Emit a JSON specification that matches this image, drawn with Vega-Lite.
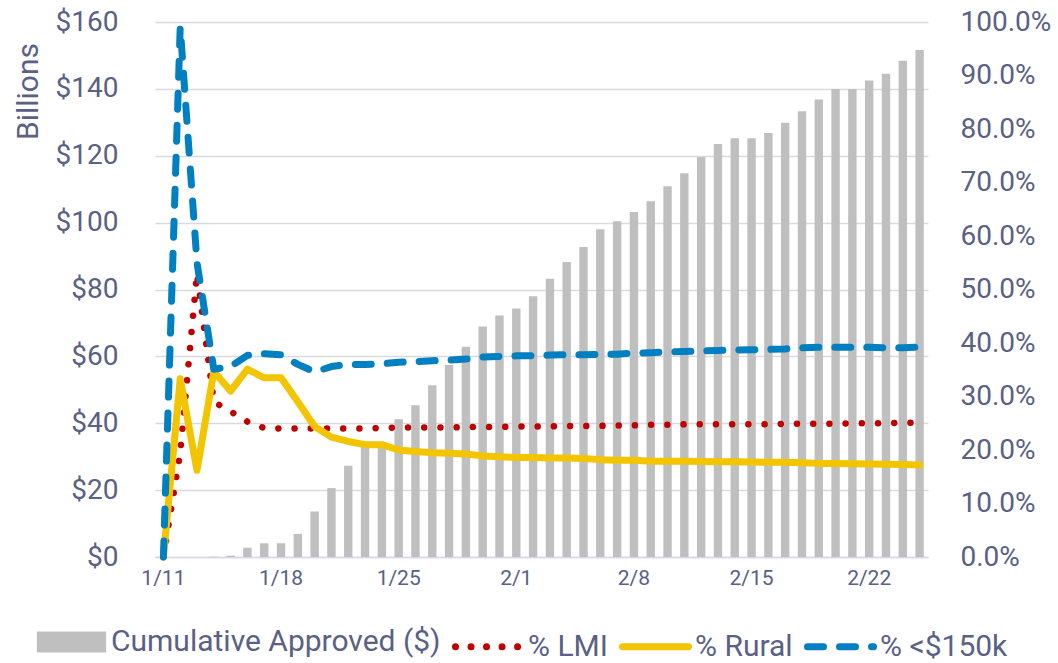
{
  "$schema": "https://vega.github.io/schema/vega-lite/v6.json",
  "width": 773,
  "height": 535,
  "autosize": "none",
  "padding": {"left": 155, "top": 22, "right": 130, "bottom": 106},
  "background": "white",
  "config": {
    "view": {"stroke": null},
    "font": "Roboto",
    "axis": {"labelFont": "Roboto", "titleFont": "Roboto", "labelColor": "#5a6086", "titleColor": "#5a6086"}
  },
  "data": {"values": [
    {"d": "1/11", "amt": 0, "lmi": 0, "rur": 0, "u": 0},
    {"d": "1/12", "amt": 0, "lmi": 0.195, "rur": 0.333, "u": 0.99},
    {"d": "1/13", "amt": 0, "lmi": 0.53, "rur": 0.162, "u": 0.55},
    {"d": "1/14", "amt": 0.1, "lmi": 0.29, "rur": 0.347, "u": 0.351},
    {"d": "1/15", "amt": 0.4, "lmi": 0.272, "rur": 0.31, "u": 0.356},
    {"d": "1/16", "amt": 2.8, "lmi": 0.253, "rur": 0.351, "u": 0.377},
    {"d": "1/17", "amt": 4.1, "lmi": 0.241, "rur": 0.335, "u": 0.38},
    {"d": "1/18", "amt": 4.1, "lmi": 0.24, "rur": 0.335, "u": 0.378},
    {"d": "1/19", "amt": 6.9, "lmi": 0.24, "rur": 0.29, "u": 0.36},
    {"d": "1/20", "amt": 13.6, "lmi": 0.24, "rur": 0.244, "u": 0.346},
    {"d": "1/21", "amt": 20.6, "lmi": 0.24, "rur": 0.224, "u": 0.356},
    {"d": "1/22", "amt": 27.3, "lmi": 0.24, "rur": 0.216, "u": 0.36},
    {"d": "1/23", "amt": 33.0, "lmi": 0.24, "rur": 0.21, "u": 0.36},
    {"d": "1/24", "amt": 33.8, "lmi": 0.241, "rur": 0.21, "u": 0.361},
    {"d": "1/25", "amt": 41.2, "lmi": 0.242, "rur": 0.2, "u": 0.364},
    {"d": "1/26", "amt": 45.4, "lmi": 0.242, "rur": 0.197, "u": 0.365},
    {"d": "1/27", "amt": 51.4, "lmi": 0.242, "rur": 0.195, "u": 0.367},
    {"d": "1/28", "amt": 57.4, "lmi": 0.242, "rur": 0.194, "u": 0.368},
    {"d": "1/29", "amt": 62.9, "lmi": 0.243, "rur": 0.1925, "u": 0.37},
    {"d": "1/30", "amt": 68.9, "lmi": 0.243, "rur": 0.189, "u": 0.374},
    {"d": "1/31", "amt": 72.2, "lmi": 0.243, "rur": 0.1875, "u": 0.375},
    {"d": "2/1", "amt": 74.3, "lmi": 0.244, "rur": 0.186, "u": 0.376},
    {"d": "2/2", "amt": 78.0, "lmi": 0.244, "rur": 0.186, "u": 0.376},
    {"d": "2/3", "amt": 83.2, "lmi": 0.244, "rur": 0.185, "u": 0.3775},
    {"d": "2/4", "amt": 88.2, "lmi": 0.245, "rur": 0.185, "u": 0.378},
    {"d": "2/5", "amt": 92.7, "lmi": 0.245, "rur": 0.184, "u": 0.378},
    {"d": "2/6", "amt": 98.0, "lmi": 0.245, "rur": 0.182, "u": 0.379},
    {"d": "2/7", "amt": 100.4, "lmi": 0.246, "rur": 0.181, "u": 0.379},
    {"d": "2/8", "amt": 103.2, "lmi": 0.246, "rur": 0.181, "u": 0.381},
    {"d": "2/9", "amt": 106.4, "lmi": 0.247, "rur": 0.179, "u": 0.382},
    {"d": "2/10", "amt": 110.9, "lmi": 0.247, "rur": 0.179, "u": 0.383},
    {"d": "2/11", "amt": 114.8, "lmi": 0.248, "rur": 0.179, "u": 0.384},
    {"d": "2/12", "amt": 119.6, "lmi": 0.248, "rur": 0.1785, "u": 0.385},
    {"d": "2/13", "amt": 123.5, "lmi": 0.248, "rur": 0.178, "u": 0.386},
    {"d": "2/14", "amt": 125.2, "lmi": 0.248, "rur": 0.178, "u": 0.387},
    {"d": "2/15", "amt": 125.2, "lmi": 0.248, "rur": 0.1775, "u": 0.3875},
    {"d": "2/16", "amt": 126.8, "lmi": 0.248, "rur": 0.177, "u": 0.388},
    {"d": "2/17", "amt": 129.9, "lmi": 0.249, "rur": 0.177, "u": 0.389},
    {"d": "2/18", "amt": 133.3, "lmi": 0.249, "rur": 0.176, "u": 0.391},
    {"d": "2/19", "amt": 136.8, "lmi": 0.249, "rur": 0.175, "u": 0.392},
    {"d": "2/20", "amt": 140.0, "lmi": 0.249, "rur": 0.175, "u": 0.392},
    {"d": "2/21", "amt": 140.0, "lmi": 0.25, "rur": 0.1745, "u": 0.392},
    {"d": "2/22", "amt": 142.5, "lmi": 0.25, "rur": 0.174, "u": 0.392},
    {"d": "2/23", "amt": 144.5, "lmi": 0.25, "rur": 0.1735, "u": 0.391},
    {"d": "2/24", "amt": 148.4, "lmi": 0.251, "rur": 0.173, "u": 0.391},
    {"d": "2/25", "amt": 151.6, "lmi": 0.251, "rur": 0.172, "u": 0.3925}
  ]},
  "layer": [
    {
      "mark": {"type": "bar", "width": {"band": 0.5}},
      "encoding": {
        "x": {
          "field": "d", "type": "ordinal", "sort": null,
          "scale": {"paddingInner": 0, "paddingOuter": 0},
          "axis": {
            "title": null,
            "values": ["1/11", "1/18", "1/25", "2/1", "2/8", "2/15", "2/22"],
            "labelAngle": 0, "labelFontSize": 21, "labelPadding": 10,
            "ticks": false, "grid": false,
            "domainColor": "#d9d9e4", "domainWidth": 1.5
          }
        },
        "y": {
          "field": "amt", "type": "quantitative",
          "scale": {"domain": [0, 160], "nice": false},
          "axis": {
            "orient": "left",
            "values": [0, 20, 40, 60, 80, 100, 120, 140, 160],
            "labelExpr": "'$' + datum.value",
            "grid": true, "gridColor": "#d9d9e4", "gridWidth": 1.5,
            "domain": false, "ticks": false,
            "labelPadding": 37, "labelFontSize": 28,
            "title": "Billions", "titleFontSize": 30, "titleFontWeight": "normal",
            "titleAngle": -90, "titleX": -127, "titleY": 69,
            "titleAlign": "center", "titleBaseline": "middle"
          }
        },
        "color": {
          "datum": "Cumulative Approved ($)", "type": "nominal",
          "scale": {
            "domain": ["Cumulative Approved ($)", "% LMI", "% Rural", "% <$150k"],
            "range": ["#bfbfbf", "#c00000", "#f2c500", "#0080c0"]
          },
          "legend": {
            "title": null,
            "orient": "none",
            "legendX": -120,
            "legendY": 583,
            "direction": "horizontal",
            "columns": 4,
            "symbolSize": 4356,
            "labelFont": "Roboto",
            "labelFontSize": 30,
            "labelColor": "#5a6086",
            "labelOffset": 3,
            "labelLimit": 600,
            "columnPadding": 0,
            "encode": {
              "symbols": {
                "update": {
                  "size": {"value": 4356},
                  "shape": {"signal": "datum.value === 'Cumulative Approved ($)' ? 'M-1.05,-0.32H1.05V0.32H-1.05Z' : 'stroke'"},
                  "fill": {"signal": "datum.value === 'Cumulative Approved ($)' ? '#bfbfbf' : 'transparent'"},
                  "stroke": {"signal": "datum.value === '% LMI' ? '#c00000' : datum.value === '% Rural' ? '#f2c500' : datum.value === '% <$150k' ? '#0080c0' : 'transparent'"},
                  "strokeWidth": {"value": 7},
                  "strokeDash": {"signal": "datum.value === '% LMI' ? [0.01, 15.5] : datum.value === '% <$150k' ? [16, 16] : [1, 0]"},
                  "strokeCap": {"value": "round"},
                  "opacity": {"value": 1}
                }
              }
            }
          }
        }
      }
    },
    {
      "layer": [
        {
          "mark": {"type": "line", "color": "#c00000", "strokeWidth": 6.5, "strokeDash": [0.01, 16.2], "strokeCap": "round", "strokeJoin": "round"},
          "encoding": {
            "x": {"field": "d", "type": "ordinal", "sort": null},
            "y": {
              "field": "lmi", "type": "quantitative",
              "scale": {"domain": [0, 1], "nice": false},
              "axis": {
                "orient": "right", "title": null,
                "values": [0, 0.1, 0.2, 0.3, 0.4, 0.5, 0.6, 0.7, 0.8, 0.9, 1],
                "format": ".1%", "grid": false, "domain": false, "ticks": false,
                "labelPadding": 32, "labelFontSize": 28
              }
            }
          }
        },
        {
          "mark": {"type": "line", "color": "#f2c500", "strokeWidth": 7, "strokeCap": "round", "strokeJoin": "round"},
          "encoding": {
            "x": {"field": "d", "type": "ordinal", "sort": null},
            "y": {
              "field": "rur", "type": "quantitative",
              "scale": {"domain": [0, 1], "nice": false},
              "axis": {
                "orient": "right", "title": null,
                "values": [0, 0.1, 0.2, 0.3, 0.4, 0.5, 0.6, 0.7, 0.8, 0.9, 1],
                "format": ".1%", "grid": false, "domain": false, "ticks": false,
                "labelPadding": 32, "labelFontSize": 28
              }
            }
          }
        },
        {
          "mark": {"type": "line", "color": "#0080c0", "strokeWidth": 7, "strokeDash": [16, 16], "strokeCap": "round", "strokeJoin": "round"},
          "encoding": {
            "x": {"field": "d", "type": "ordinal", "sort": null},
            "y": {
              "field": "u", "type": "quantitative",
              "scale": {"domain": [0, 1], "nice": false},
              "axis": {
                "orient": "right", "title": null,
                "values": [0, 0.1, 0.2, 0.3, 0.4, 0.5, 0.6, 0.7, 0.8, 0.9, 1],
                "format": ".1%", "grid": false, "domain": false, "ticks": false,
                "labelPadding": 32, "labelFontSize": 28
              }
            }
          }
        }
      ]
    }
  ],
  "resolve": {"scale": {"y": "independent"}}
}
